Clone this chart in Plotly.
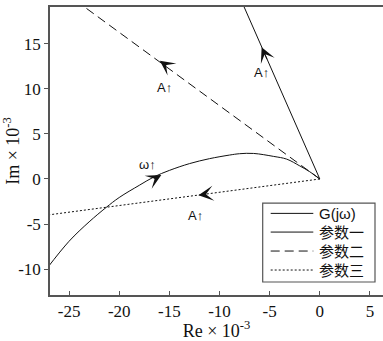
import plotly.graph_objects as go

# G(jw) curve (Re, Im) x 1e-3
g_re = [0, -1, -2, -3.3, -4.6, -6.6, -8, -9, -11, -13, -15, -16.5, -18, -20, -21.3, -23, -25, -27.2]
g_im = [0, 0.8, 1.45, 2.2, 2.5, 2.83, 2.8, 2.65, 2.25, 1.7, 0.95, 0.25, -0.7, -2.05, -3.15, -4.75, -6.9, -9.9]
# 参数一
p1_re = [0, -8.0]
p1_im = [0, 20.2]
# 参数二
p2_re = [0, -25.0]
p2_im = [0, 20.3]
# 参数三
p3_re = [0, -27.2]
p3_im = [0, -4.0]

series_names = ["G(jω)", "参数一", "参数二", "参数三"]

x_tickvals = [-25, -20, -15, -10, -5, 0, 5]
x_ticktext = ["-25", "-20", "-15", "-10", "-5", "0", "5"]
y_tickvals = [-10, -5, 0, 5, 10, 15]
y_ticktext = ["-10", "-5", "0", "5", "10", "15"]

# arrow heads: tip and tail positions (data units)
arrow_tip_x = [-5.8, -15.95, -15.8, -12.1]
arrow_tip_y = [14.6, 13.1, 0.43, -1.8]
arrow_tail_x = [-5.2, -15.2, -16.6, -11.3]
arrow_tail_y = [13.1, 12.5, -0.05, -1.68]

# labels
label_text = ["A↑", "A↑", "ω↑", "A↑"]
label_x = [-5.8, -15.45, -17.2, -12.35]
label_y = [11.8, 10.15, 1.65, -4.0]

line_col = "#111111"
dashes = ["solid", "solid", "9px,5px", "2px,2px"]
series = [(g_re, g_im, "spline"), (p1_re, p1_im, "linear"), (p2_re, p2_im, "linear"), (p3_re, p3_im, "linear")]

fig = go.Figure()
for (xs, ys, shp), name, d in zip(series, series_names, dashes):
    fig.add_trace(go.Scatter(x=xs, y=ys, mode="lines", name=name, showlegend=False,
                             line=dict(color=line_col, width=1, shape=shp, dash=d)))

for tx, ty, sx, sy in zip(arrow_tip_x, arrow_tip_y, arrow_tail_x, arrow_tail_y):
    fig.add_annotation(x=tx, y=ty, ax=sx, ay=sy, xref="x", yref="y", axref="x", ayref="y",
                       showarrow=True, arrowhead=3, arrowsize=2.5, arrowwidth=1,
                       arrowcolor=line_col, text="")

for t, lx, ly in zip(label_text, label_x, label_y):
    fig.add_annotation(x=lx, y=ly, xref="x", yref="y", text=t, showarrow=False,
                       font=dict(family="Liberation Sans, Arial, sans-serif", size=13, color="#111"))

# manual legend (paper coordinates of the plot area)
plot_l, plot_r, plot_t, plot_b = 50, 383, 6.7, 295
def px(p):
    return (p - plot_l) / (plot_r - plot_l)
def py(p):
    return (plot_b - p) / (plot_b - plot_t)

fig.add_shape(type="rect", xref="paper", yref="paper",
              x0=px(262.7), x1=px(375), y0=py(282), y1=py(203),
              line=dict(color="#555", width=1.2), fillcolor="white", layer="above")
row_y = [213.3, 232, 251, 270]
for name, d, ry in zip(series_names, dashes, row_y):
    fig.add_shape(type="line", xref="paper", yref="paper",
                  x0=px(270.7), x1=px(313.3), y0=py(ry), y1=py(ry),
                  line=dict(color=line_col, width=1, dash=d), layer="above")
    fig.add_annotation(x=px(316.5), y=py(ry), xref="paper", yref="paper", text=name,
                       showarrow=False, xanchor="left", yanchor="middle",
                       font=dict(family="Liberation Sans, Noto Sans CJK SC, sans-serif", size=15, color="#111"))

tick_font = dict(family="Liberation Serif, serif", size=17, color="#111")
title_font = dict(family="Liberation Serif, serif", size=18, color="#111")
fig.update_layout(
    width=383, height=341,
    margin=dict(l=50, r=0, t=7, b=46),
    paper_bgcolor="white", plot_bgcolor="white",
    showlegend=False,
    xaxis=dict(range=[-26.9, 6.3], tickvals=x_tickvals, ticktext=x_ticktext,
               ticks="inside", ticklen=4, tickcolor="#555", showline=True, linecolor="#555",
               linewidth=1.5, mirror=True, showgrid=False, zeroline=False, automargin=False,
               tickfont=tick_font,
               title=dict(text="Re × 10<sup>-3</sup>", font=title_font, standoff=0)),
    yaxis=dict(range=[-12.85, 19.05], tickvals=y_tickvals, ticktext=y_ticktext,
               ticks="outside", ticklen=4, tickcolor="#555", showline=True, linecolor="#555",
               linewidth=1.5, mirror=False, showgrid=False, zeroline=False, automargin=False,
               tickfont=tick_font,
               title=dict(text="Im × 10<sup>-3</sup>", font=title_font, standoff=0)),
)

fig.write_html("out.html", config={"displayModeBar": False},
               post_script="document.body.style.margin='0px';document.body.style.overflow='hidden';")
